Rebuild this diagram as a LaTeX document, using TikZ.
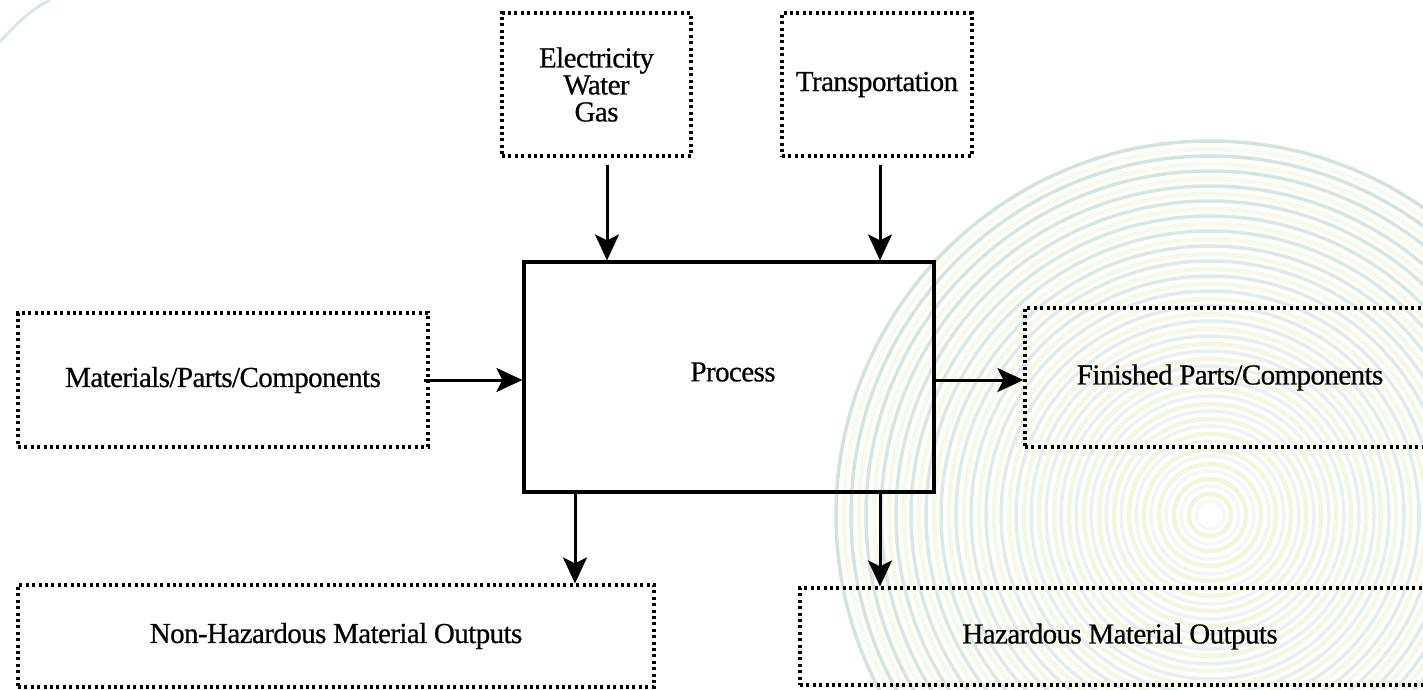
\documentclass[tikz,border=0pt]{standalone}
\usepackage{fontspec}
\setmainfont{Liberation Serif}
\usetikzlibrary{arrows.meta}
\definecolor{ringteal}{RGB}{168,205,188}
\definecolor{ringlime}{RGB}{224,235,180}
\tikzset{
  label font/.style={font=\fontsize{29}{27}\selectfont\addfontfeature{FakeBold=0.6,LetterSpace=-2}},
  dotbox/.style={draw=black, line width=3.2pt, dash pattern=on 3pt off 3.4pt,
    inner sep=0pt, align=center, label font},
  procbox/.style={draw=black, line width=3.2pt, inner sep=0pt, label font},
  flow/.style={-{Stealth[length=26pt,width=24pt,inset=6pt]}, line width=3pt},
}
\begin{document}
\begin{tikzpicture}[x=1pt,y=-1pt]
\useasboundingbox (0,0) rectangle (1423,689);
\clip (0,0) rectangle (1423,689);

% concentric rings in the background
\foreach \r in {14,29,...,380} {
  \pgfmathsetmacro{\op}{0.12+0.43*\r/380}
  \draw[ringteal, line width=3.5pt, opacity=\op] (1210,515) circle (\r pt);
}
\foreach \r in {21,36,...,375} {
  \pgfmathsetmacro{\op}{0.5-0.25*\r/375}
  \draw[ringlime, line width=4.5pt, opacity=\op] (1210,515) circle (\r pt);
}
% faint arc in the upper left corner
\draw[ringteal, line width=3pt, opacity=0.45] (0,42) .. controls (14,26) and (30,10) .. (50,0);

% boxes
\node[dotbox, minimum width=189pt, minimum height=143pt] (elec) at (596.5,84.5)
  {Electricity\\Water\\Gas};
\node[dotbox, minimum width=190pt, minimum height=143pt] (trans) at (877,84.5)
  {Transportation};
\node[procbox, minimum width=410pt, minimum height=230pt] (proc) at (729,377) {};
\node[label font] (proctext) at (733,372) {Process};
\node[dotbox, minimum width=410pt, minimum height=134pt] (mat) at (223,380)
  {Materials/Parts/Components};
\node[dotbox, minimum width=410pt, minimum height=139pt] (fin) at (1230,377.5)
  {Finished Parts/Components};
\node[dotbox, minimum width=636pt, minimum height=102pt] (nonhaz) at (336,636)
  {Non-Hazardous Material Outputs};
\node[dotbox, minimum width=640pt, minimum height=97pt] (haz) at (1120,636.5)
  {Hazardous Material Outputs};

% flows
\draw[flow, shorten <=7pt] ([xshift=10.5pt]elec.south) -- ([xshift=10.5pt]elec.south |- proc.north);
\draw[flow, shorten <=7pt] ([xshift=3pt]trans.south) -- ([xshift=3pt]trans.south |- proc.north);
\draw[flow] ([xshift=-6pt]mat.east) -- (proc.west |- mat.east);
\draw[flow] (proc.east |- mat.east) -- (fin.west |- mat.east);
\draw[flow] ([xshift=-154pt]proc.south) -- ([xshift=-154pt]proc.south |- nonhaz.north);
\draw[flow] ([xshift=151pt]proc.south) -- ([xshift=151pt]proc.south |- haz.north);
\end{tikzpicture}
\end{document}
